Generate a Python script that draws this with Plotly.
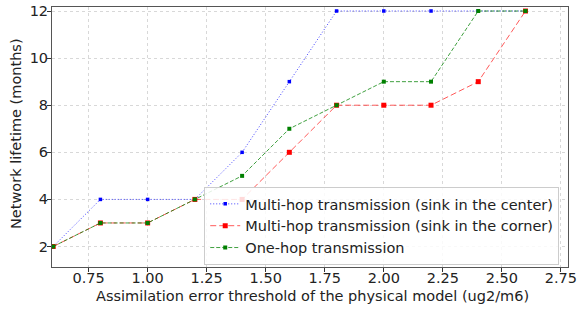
import plotly.graph_objects as go

x = [0.6, 0.8, 1.0, 1.2, 1.4, 1.6, 1.8, 2.0, 2.2, 2.4, 2.6]
center = [2, 4, 4, 4, 6, 9, 12, 12, 12, 12, 12]
corner = [2, 3, 3, 4, 4, 6, 8, 8, 8, 9, 12]
onehop = [2, 3, 3, 4, 5, 7, 8, 9, 9, 12, 12]

names = ["Multi-hop transmission (sink in the center)",
         "Multi-hop transmission (sink in the corner)",
         "One-hop transmission"]
xtitle = "Assimilation error threshold of the physical model (ug2/m6)"
ytitle = "Network lifetime (months)"

fig = go.Figure()
fig.add_trace(go.Scatter(x=x, y=center, name=names[0], mode="lines+markers",
                         line=dict(color="rgba(0,0,255,0.75)", width=1, dash="1px,2px"),
                         marker=dict(symbol="square", size=3.5, color="blue")))
fig.add_trace(go.Scatter(x=x, y=corner, name=names[1], mode="lines+markers",
                         line=dict(color="rgba(255,0,0,0.65)", width=1, dash="6px,3px"),
                         marker=dict(symbol="square", size=5, color="red")))
fig.add_trace(go.Scatter(x=x, y=onehop, name=names[2], mode="lines+markers",
                         line=dict(color="rgba(0,128,0,0.75)", width=1, dash="4px,2px"),
                         marker=dict(symbol="square", size=4, color="green")))

FS = 14.5
axis_common = dict(showline=True, linecolor="#555", linewidth=1, mirror=True,
                   showgrid=True, gridcolor="#d8d8d8", griddash="dot", gridwidth=1,
                   ticks="outside", ticklen=4, tickcolor="#333", zeroline=False,
                   automargin=False,
                   tickfont=dict(size=FS, color="#222"))

fig.update_xaxes(range=[0.595, 2.78], tickvals=[0.75, 1.0, 1.25, 1.5, 1.75, 2.0, 2.25, 2.5, 2.75],
                 ticktext=["0.75", "1.00", "1.25", "1.50", "1.75", "2.00", "2.25", "2.50", "2.75"],
                 ticklabelstandoff=-6,
                 **axis_common)
fig.update_yaxes(range=[1.13, 12.17], tickvals=[2, 4, 6, 8, 10, 12],
                 ticklabelstandoff=-4,
                 **axis_common)

fig.add_annotation(text=xtitle, xref="paper", yref="paper", x=0.504, y=-0.112,
                   xanchor="center", yanchor="middle", showarrow=False,
                   font=dict(size=FS, color="#222"))
fig.add_annotation(text=ytitle, xref="paper", yref="paper", x=-0.070, y=0.515,
                   xanchor="center", yanchor="middle", textangle=-90, showarrow=False,
                   font=dict(size=FS, color="#222"))

fig.update_layout(
    width=579, height=309,
    margin=dict(l=52, r=11, t=7, b=42),
    paper_bgcolor="white", plot_bgcolor="white",
    font=dict(family="DejaVu Sans", size=FS, color="#222"),
    legend=dict(x=0.295, y=0.158, xanchor="left", yanchor="middle",
                bgcolor="rgba(255,255,255,0.85)", bordercolor="#ccc", borderwidth=1,
                font=dict(size=FS), tracegroupgap=0),
    showlegend=True,
)

fig.write_html("out.html", config={"displayModeBar": False},
               post_script="document.body.style.margin='0';document.body.style.padding='0';")
